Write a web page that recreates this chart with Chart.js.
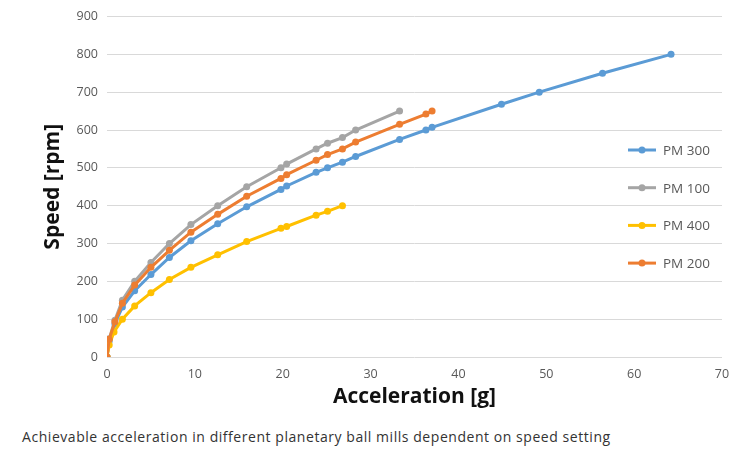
<!DOCTYPE html>
<html>
<head>
<meta charset="utf-8">
<script src="https://cdn.jsdelivr.net/npm/chart.js@4/dist/chart.umd.min.js"></script>
<style>
  body { margin: 0; background: #fff; width: 754px; height: 459px; overflow: hidden; }
  #wrap { position: absolute; left: 0; top: 0; width: 754px; height: 415px; }
  #caption {
    position: absolute; left: 22px; top: 427px;
    font-family: "Open Sans", sans-serif; font-size: 14px; color: #333;
    letter-spacing: 0.55px;
  }
</style>
</head>
<body>
<div id="wrap"><canvas id="millChart" width="754" height="415"></canvas></div>
<div id="caption">Achievable acceleration in different planetary ball mills dependent on speed setting</div>
<script>
// Acceleration [g] / speed [rpm]
const pm300Accel = [0, 0.25, 0.9, 1.75, 3.15, 5.0, 7.1, 9.55, 12.6, 15.9, 19.8, 20.45, 23.8, 25.1, 26.8, 28.3, 33.3, 36.3, 37.0, 44.9, 49.2, 56.4, 64.2];
const pm300Speed = [0, 42, 88, 132, 175, 218, 263, 307, 352, 397, 443, 452, 488, 500, 515, 530, 575, 600, 607, 668, 700, 750, 800];

const pm100Accel = [0, 0.25, 0.9, 1.75, 3.15, 5.0, 7.1, 9.55, 12.6, 15.9, 19.8, 20.45, 23.8, 25.1, 26.8, 28.3, 33.3];
const pm100Speed = [0, 48, 97, 150, 200, 250, 300, 350, 400, 450, 500, 510, 550, 565, 580, 600, 650];

const pm400Accel = [0, 0.25, 0.8, 1.75, 3.15, 5.0, 7.1, 9.55, 12.6, 15.9, 19.8, 20.45, 23.8, 25.1, 26.8];
const pm400Speed = [0, 32, 66, 100, 135, 170, 205, 237, 270, 305, 340, 345, 375, 385, 400];

const pm200Accel = [0, 0.25, 0.9, 1.75, 3.15, 5.0, 7.1, 9.55, 12.6, 15.9, 19.8, 20.45, 23.8, 25.1, 26.8, 28.3, 33.3, 36.3, 37.0];
const pm200Speed = [0, 47, 93, 142, 190, 237, 282, 330, 377, 425, 472, 482, 520, 535, 550, 568, 615, 642, 650];

const seriesNames = ['PM 300', 'PM 100', 'PM 400', 'PM 200'];
const seriesColors = ['#5B9BD5', '#A5A5A5', '#FFC000', '#ED7D31'];

function toPoints(xs, ys) {
    return xs.map((x, i) => ({x: x, y: ys[i]}));
}

const allSeries = [
    toPoints(pm300Accel, pm300Speed),
    toPoints(pm100Accel, pm100Speed),
    toPoints(pm400Accel, pm400Speed),
    toPoints(pm200Accel, pm200Speed)
];

const tickColor = '#595959';
const baseFont = '"Open Sans", sans-serif';

// legend sits inside the plot, on the right
const insideLegend = {
    id: 'insideLegend',
    afterDraw(chart) {
        const c = chart.ctx;
        c.save();
        chart.data.datasets.forEach((ds, i) => {
            const y = 150 + i * 37.7;
            c.strokeStyle = ds.borderColor;
            c.lineWidth = 3;
            c.beginPath();
            c.moveTo(628, y);
            c.lineTo(656, y);
            c.stroke();
            c.fillStyle = ds.borderColor;
            c.beginPath();
            c.arc(642, y, 3.5, 0, Math.PI * 2);
            c.fill();
            c.fillStyle = tickColor;
            c.font = '13.5px ' + baseFont;
            c.textBaseline = 'middle';
            c.fillText(ds.label, 663, y + 1);
        });
        c.restore();
    }
};

const ctx = document.getElementById('millChart').getContext('2d');
const millChart = new Chart(ctx, {
    type: 'line',
    data: {
        datasets: allSeries.map((pts, i) => ({
            label: seriesNames[i],
            data: pts,
            borderColor: seriesColors[i],
            backgroundColor: seriesColors[i],
            borderWidth: 3,
            pointRadius: 3.5,
            pointHoverRadius: 3.5,
            pointBorderWidth: 0,
            tension: 0,
            order: 4 - i
        }))
    },
    options: {
        responsive: false,
        animation: false,
        layout: { padding: { top: 15, right: 32, left: 0, bottom: 0 } },
        plugins: {
            legend: { display: false },
            tooltip: { enabled: false }
        },
        scales: {
            x: {
                type: 'linear',
                min: 0,
                max: 70,
                ticks: { stepSize: 10, color: tickColor, font: { family: baseFont, size: 12.5 }, padding: 2 },
                grid: { display: false },
                border: { display: false },
                title: {
                    display: true,
                    text: 'Acceleration [g]',
                    color: '#111',
                    font: { family: baseFont, size: 21, weight: 'bold' },
                    padding: { top: 0, bottom: 5 }
                },
                afterFit(scale) { scale.height = 58; }
            },
            y: {
                min: 0,
                max: 900,
                ticks: { stepSize: 100, color: tickColor, font: { family: baseFont, size: 12.5 }, padding: 9 },
                grid: { color: '#D9D9D9', drawTicks: false, lineWidth: 1 },
                border: { display: false },
                title: {
                    display: true,
                    text: 'Speed [rpm]',
                    color: '#111',
                    font: { family: baseFont, size: 21, weight: 'bold' },
                    padding: { top: 40, bottom: 0 }
                },
                afterFit(scale) { scale.width = 107; }
            }
        }
    },
    plugins: [insideLegend]
});
</script>
</body>
</html>
